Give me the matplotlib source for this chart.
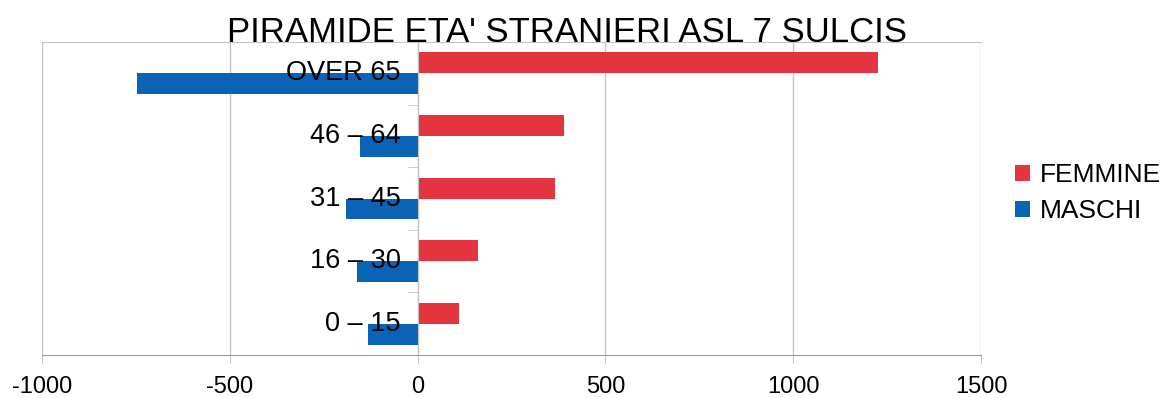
import matplotlib
matplotlib.use('Agg')
import matplotlib.pyplot as plt
import numpy as np

plt.rcParams['font.family'] = ['Liberation Sans', 'DejaVu Sans']
plt.rcParams['axes.unicode_minus'] = False

# fasce d'eta', dal basso verso l'alto
fasce = ['0 – 15', '16 – 30', '31 – 45', '46 – 64', 'OVER 65']
femmine = [111, 162, 367, 389, 1225]
maschi = [-131, -162, -191, -153, -748]

rosso = '#e3343f'
blu = '#0b63b5'
grigio = '#c4c4c4'

fig = plt.figure(figsize=(11.65, 3.98), dpi=100)
ax = fig.add_axes([42 / 1165, 1 - 355 / 398, (981 - 42) / 1165, (355 - 42) / 398])

y = np.arange(len(fasce))
h = 0.333
ax.barh(y + h / 2, femmine, height=h, color=rosso, label='FEMMINE', zorder=2)
ax.barh(y - h / 2, maschi, height=h, color=blu, label='MASCHI', zorder=2)

ax.set_xlim(-1000, 1500)
ax.set_ylim(-0.5, len(fasce) - 0.5)
ax.set_xticks([-1000, -500, 0, 500, 1000, 1500])
ax.grid(axis='x', color=grigio, linewidth=1, zorder=0)
ax.tick_params(axis='x', length=6, color=grigio, labelsize=17, pad=9)

# asse verticale sullo zero con tacche tra le fasce
ax.spines['left'].set_position(('data', 0))
ax.spines['left'].set_color(grigio)
ax.spines['right'].set_visible(False)
ax.spines['top'].set_color(grigio)
ax.spines['bottom'].set_color('#9a9a9a')
ax.set_yticks([])
ax.set_yticks(np.arange(len(fasce) - 1) + 0.5, minor=True)
ax.tick_params(axis='y', which='minor', length=7, color=grigio, direction='out')
ax.yaxis.set_tick_params(which='minor', labelleft=False)

for yi, nome in zip(y, fasce):
    ax.text(-45, yi, nome, ha='right', va='center', fontsize=19.5, color='black', zorder=5)

fig.text(567 / 1165, 1 - 42 / 398, "PIRAMIDE ETA' STRANIERI ASL 7 SULCIS",
         ha='center', va='baseline', fontsize=25, color='black')

ax.legend(loc='center left', bbox_to_anchor=(1015 / 1165, 1 - 193 / 398),
          bbox_transform=fig.transFigure, frameon=False, fontsize=19,
          handlelength=0.55, handleheight=0.55, handletextpad=0.4,
          labelspacing=0.45, borderpad=0, borderaxespad=0)

fig.savefig('out.png', dpi=100)
